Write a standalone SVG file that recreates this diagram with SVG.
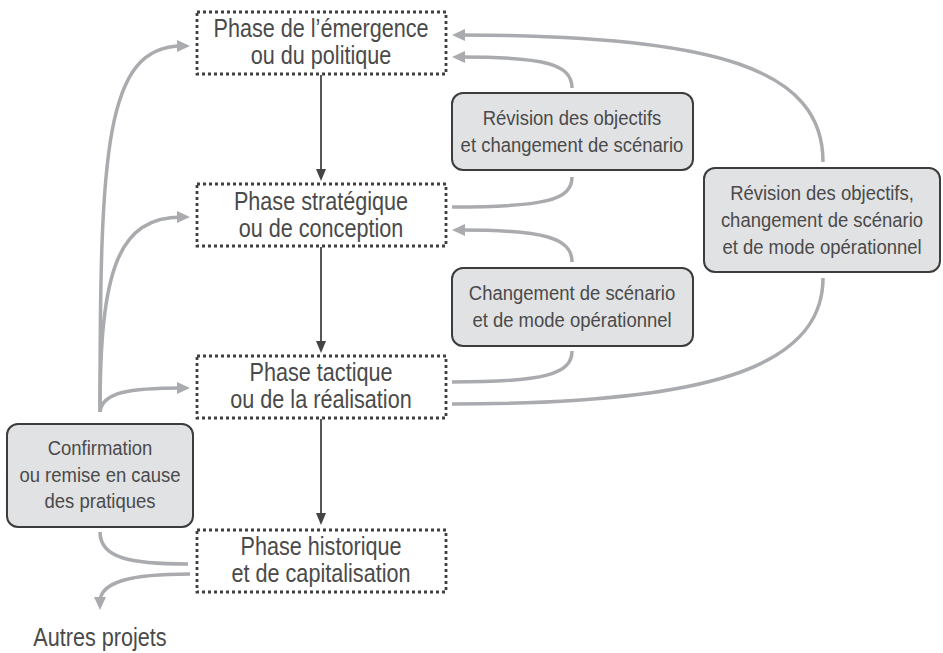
<svg xmlns="http://www.w3.org/2000/svg" width="943" height="653" viewBox="0 0 943 653">
<style>
.phase rect{fill:#fff;stroke:#3f3f3f;stroke-width:2.8;stroke-dasharray:3 3}
.note rect{fill:#e1e2e4;stroke:#3c3c3c;stroke-width:2}
text{font-family:"Liberation Sans",Arial,sans-serif;fill:#4a4a4a;text-anchor:middle}
.pt{font-size:25px}
.nt{font-size:21px}
.gc{fill:none;stroke:#a9abae;stroke-width:3.5}
.dc{fill:none;stroke:#444;stroke-width:1.8}
</style>
<defs>
<marker id="ga" viewBox="0 0 14 14" markerWidth="14" markerHeight="14" refX="5" refY="7" orient="auto" markerUnits="userSpaceOnUse"><path d="M0,1 L13,7 L0,13 z" fill="#a9abae"/></marker>
<marker id="da" viewBox="0 0 12 12" markerWidth="12" markerHeight="12" refX="3" refY="6" orient="auto" markerUnits="userSpaceOnUse"><path d="M0,1 L12,6 L0,11 z" fill="#444"/></marker>
</defs>
<g id="connectors">
<path class="dc" d="M321,75 L321,172" marker-end="url(#da)"/>
<path class="dc" d="M321,247 L321,344" marker-end="url(#da)"/>
<path class="dc" d="M321,419 L321,516" marker-end="url(#da)"/>
<path class="gc" d="M100,412 C100,150 105,46 182,46" marker-end="url(#ga)"/>
<path class="gc" d="M100,412 C100,270 118,217 182,217" marker-end="url(#ga)"/>
<path class="gc" d="M100,412 C102,392 130,388 182,388" marker-end="url(#ga)"/>
<path class="gc" d="M100,532 C100,558 130,564 188,564"/>
<path class="gc" d="M190,574 C130,574 100,582 100,602" marker-end="url(#ga)"/>
<path class="gc" d="M823,162 C823,70 720,35 460,35" marker-end="url(#ga)"/>
<path class="gc" d="M572,88 C572,64 545,57 460,57" marker-end="url(#ga)"/>
<path class="gc" d="M572,262 C572,238 545,230 460,230" marker-end="url(#ga)"/>
<path class="gc" d="M572,177 C572,200 545,207 452,207"/>
<path class="gc" d="M572,351 C572,374 545,382 452,382"/>
<path class="gc" d="M823,278 C823,370 700,404 452,404"/>
</g>
<g id="phase1" class="phase"><rect x="197" y="12" width="249" height="62"/>
<g transform="translate(321,0) scale(0.865,1)"><text class="pt" x="0" y="37">Phase de l’émergence</text><text class="pt" x="0" y="64">ou du politique</text></g></g>
<g id="phase2" class="phase"><rect x="197" y="184" width="249" height="62"/>
<g transform="translate(321,0) scale(0.865,1)"><text class="pt" x="0" y="210">Phase stratégique</text><text class="pt" x="0" y="237">ou de conception</text></g></g>
<g id="phase3" class="phase"><rect x="197" y="356" width="249" height="62"/>
<g transform="translate(321,0) scale(0.865,1)"><text class="pt" x="0" y="381">Phase tactique</text><text class="pt" x="0" y="408">ou de la réalisation</text></g></g>
<g id="phase4" class="phase"><rect x="197" y="530" width="249" height="62"/>
<g transform="translate(321,0) scale(0.865,1)"><text class="pt" x="0" y="555">Phase historique</text><text class="pt" x="0" y="582">et de capitalisation</text></g></g>
<g id="rev1" class="note"><rect x="452" y="93" width="241" height="77" rx="11"/>
<g transform="translate(572,0) scale(0.88,1)"><text class="nt" x="0" y="125">Révision des objectifs</text><text class="nt" x="0" y="152">et changement de scénario</text></g></g>
<g id="rev3" class="note"><rect x="452" y="268" width="241" height="78" rx="11"/>
<g transform="translate(572,0) scale(0.88,1)"><text class="nt" x="0" y="300">Changement de scénario</text><text class="nt" x="0" y="327">et de mode opérationnel</text></g></g>
<g id="rev2" class="note"><rect x="704" y="168" width="236" height="104" rx="11"/>
<g transform="translate(822,0) scale(0.88,1)"><text class="nt" x="0" y="200">Révision des objectifs,</text><text class="nt" x="0" y="227">changement de scénario</text><text class="nt" x="0" y="254">et de mode opérationnel</text></g></g>
<g id="confirm" class="note"><rect x="7" y="424" width="186" height="103" rx="11"/>
<g transform="translate(100,0) scale(0.88,1)"><text class="nt" x="0" y="455">Confirmation</text><text class="nt" x="0" y="482">ou remise en cause</text><text class="nt" x="0" y="508">des pratiques</text></g></g>
<g id="autres"><g transform="translate(100,0) scale(0.865,1)"><text class="pt" x="0" y="646">Autres projets</text></g></g>
</svg>
